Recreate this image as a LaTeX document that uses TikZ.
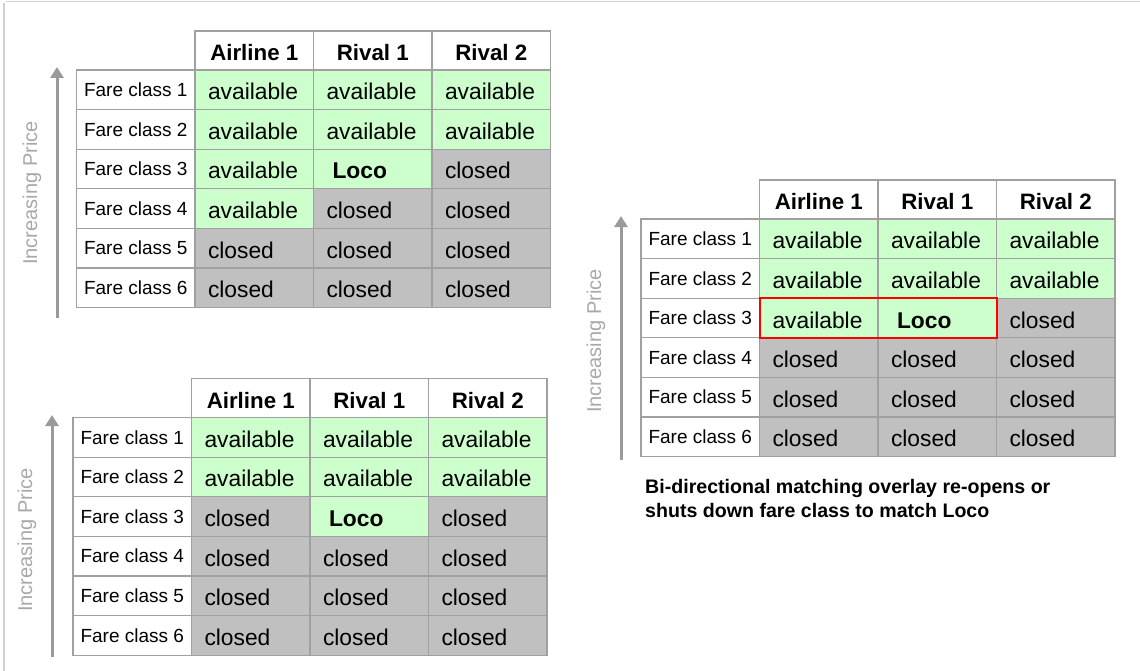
\documentclass[tikz,border=0pt]{standalone}
\usepackage{fontspec}
\setmainfont{Liberation Sans}
\usetikzlibrary{arrows.meta}

\definecolor{availgreen}{HTML}{CCFFCC}
\definecolor{closedgray}{HTML}{C0C0C0}
\definecolor{gridgray}{HTML}{A0A0A0}
\definecolor{axisgray}{HTML}{9A9A9A}
\definecolor{axistext}{HTML}{A8A8A8}
\definecolor{framegray}{HTML}{D0D0D0}

% cell contents by status code
\newcommand\txtav{available}
\newcommand\txtcl{closed}
\newcommand\txtlo{\hspace*{6pt}\textbf{Loco}}

\tikzset{
  cellbase/.style={draw=gridgray, line width=1.2pt, minimum width=118.5pt,
    minimum height=39.6pt, anchor=north west, outer sep=0pt},
  headcell/.style={cellbase, minimum height=39pt, inner sep=0pt, fill=white,
    text height=21pt, text depth=0pt,
    font=\fontsize{22.3}{24}\selectfont\bfseries},
  labelcell/.style={cellbase, inner sep=0pt, fill=white,
    font=\fontsize{19}{22}\selectfont},
  datacell/.style={cellbase, inner xsep=13pt, inner ysep=0pt, text width=92.5pt,
    text height=20pt, text depth=0pt,
    align=left, font=\fontsize{22.8}{24}\selectfont},
  av/.style={datacell, fill=availgreen},
  lo/.style={datacell, fill=availgreen},
  cl/.style={datacell, fill=closedgray},
  priceaxis/.style={draw=axisgray, line width=3pt,
    -{Triangle[width=13pt,length=11pt]}},
  axislabel/.style={text=axistext, rotate=90, inner sep=0pt,
    font=\fontsize{20}{22}\selectfont},
  frameline/.style={draw=framegray, line width=1.2pt},
  matchbox/.style={draw=red, line width=2pt},
}

% #1 name prefix, #2 left edge of the first airline column, #3 top of header row,
% #4 rows as index/status/status/status
\newcommand\faretable[4]{%
  \foreach \hd [count=\k] in {Airline 1, Rival 1, Rival 2}
    \node[headcell] (#1-h\k) at ({#2+118.5*(\k-1)}, #3) {\hd};
  \foreach \r/\a/\b/\c in {#4} {
    \node[labelcell] (#1-r\r-lab) at ({#2-118.5}, {#3+39+39.6*(\r-1)}) {Fare class \r};
    \node[\a] (#1-r\r-c1) at ({#2}, {#3+39+39.6*(\r-1)}) {\csname txt\a\endcsname};
    \node[\b] (#1-r\r-c2) at ({#2+118.5}, {#3+39+39.6*(\r-1)}) {\csname txt\b\endcsname};
    \node[\c] (#1-r\r-c3) at ({#2+237}, {#3+39+39.6*(\r-1)}) {\csname txt\c\endcsname};
  }%
}

\begin{document}
\begin{tikzpicture}[x=1pt, y=-1pt]
  \useasboundingbox (0,0) rectangle (1140,671);

  % page frame
  \coordinate (frame-top-l) at (6,1.5);
  \coordinate (frame-top-r) at (1140,1.5);
  \coordinate (frame-left-t) at (4,3);
  \coordinate (frame-left-b) at (4,671);
  \draw[frameline] (frame-top-l) -- (frame-top-r);
  \draw[frameline] (frame-left-t) -- (frame-left-b);

  % before: top-left table
  \faretable{t1}{195}{31}{1/av/av/av, 2/av/av/av, 3/av/lo/cl, 4/av/cl/cl, 5/cl/cl/cl, 6/cl/cl/cl}
  \coordinate (t1-axis-from) at (57,318);
  \coordinate (t1-axis-to) at (57,67);
  \draw[priceaxis] (t1-axis-from) -- (t1-axis-to);
  \node[axislabel] (t1-axis-label) at (32,193) {Increasing Price};

  % after: bottom-left table
  \faretable{t2}{191.5}{378.5}{1/av/av/av, 2/av/av/av, 3/cl/lo/cl, 4/cl/cl/cl, 5/cl/cl/cl, 6/cl/cl/cl}
  \coordinate (t2-axis-from) at (52,657);
  \coordinate (t2-axis-to) at (52,415);
  \draw[priceaxis] (t2-axis-from) -- (t2-axis-to);
  \node[axislabel] (t2-axis-label) at (27,540) {Increasing Price};

  % matched: right table
  \faretable{t3}{759.5}{180}{1/av/av/av, 2/av/av/av, 3/av/lo/cl, 4/cl/cl/cl, 5/cl/cl/cl, 6/cl/cl/cl}
  \coordinate (t3-axis-from) at (621,460);
  \coordinate (t3-axis-to) at (621,216);
  \draw[priceaxis] (t3-axis-from) -- (t3-axis-to);
  \node[axislabel] (t3-axis-label) at (596,341) {Increasing Price};
  \draw[matchbox] (t3-r3-c1.north west) rectangle (t3-r3-c2.south east);

  \node[anchor=north west, inner sep=0pt, align=left,
        font=\fontsize{19.6}{24}\selectfont\bfseries] (caption) at (645,479)
    {Bi-directional matching overlay re-opens or\\shuts down fare class to match Loco};
\end{tikzpicture}
\end{document}
